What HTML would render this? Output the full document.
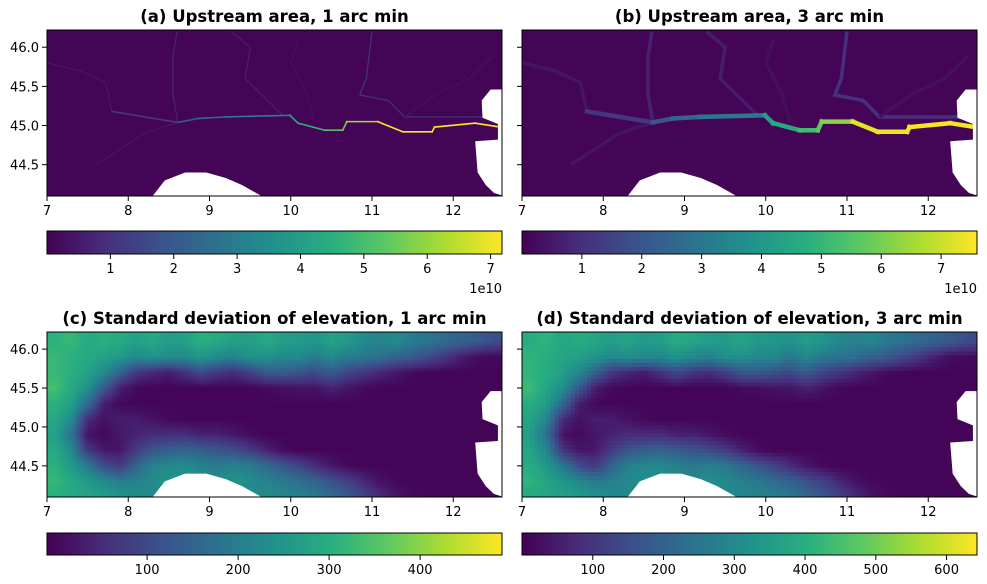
<!DOCTYPE html>
<html><head><meta charset="utf-8">
<style>
body{margin:0;background:#fff;}
svg{display:block;font-family:"DejaVu Sans","Liberation Sans",sans-serif;}
</style></head>
<body>
<svg id="fig" width="987" height="584" viewBox="0 0 987 584" xmlns="http://www.w3.org/2000/svg"></svg>
<script>
// ---------- data ----------
const xTicks = [7, 8, 9, 10, 11, 12];
const yTicks = [44.5, 45.0, 45.5, 46.0];
const poLon = [7.80, 8.61, 8.86, 9.19, 9.99, 10.09, 10.42, 10.64, 10.69, 11.07, 11.38, 11.74, 11.77, 12.27, 12.58];
const poLat = [45.18, 45.04, 45.09, 45.11, 45.13, 45.03, 44.94, 44.94, 45.05, 45.05, 44.92, 44.92, 44.98, 45.03, 44.98];
const poVal = [1.0, 1.2, 2.0, 2.5, 3.0, 4.3, 4.6, 5.2, 5.6, 6.2, 7.3, 7.4, 7.4, 7.5, 7.5];
const tribLon = [
  [12.55, 11.40, 11.20, 10.85, 10.93, 11.00],
  [8.61, 8.55, 8.55, 8.60],
  [9.90, 9.44, 9.50, 9.27],
  [7.80, 7.72, 7.40, 7.00],
  [8.61, 8.20, 7.90, 7.60],
  [10.30, 10.20, 10.00, 10.10],
  [11.40, 11.80, 12.20, 12.50]
];
const tribLat = [
  [45.11, 45.11, 45.32, 45.39, 45.60, 46.20],
  [45.04, 45.40, 45.88, 46.20],
  [45.13, 45.60, 46.00, 46.20],
  [45.18, 45.55, 45.70, 45.80],
  [45.04, 44.90, 44.70, 44.50],
  [45.05, 45.40, 45.80, 46.10],
  [45.11, 45.40, 45.60, 45.90]
];
const tribVal = [1.0, 0.7, 0.6, 0.4, 0.4, 0.3, 0.3];
const stdLat = [46.1, 45.9, 45.7, 45.5, 45.3, 45.1, 44.9, 44.7, 44.5, 44.3, 44.15];
const stdGrid = [
 [400,420,380,400,380,360,380,350,360,400,380,360,350,380,350,340,330,360,340,300,280,300,260,240,220,200,180,150],
 [420,400,380,360,340,300,320,300,300,330,300,280,320,320,300,300,260,300,260,250,230,200,180,140,100,50,20,15],
 [420,400,360,300,200,100,70,50,90,140,100,80,120,180,180,160,140,180,130,100,70,40,15,8,8,8,8,8],
 [440,380,320,180,50,15,8,8,8,8,8,8,8,15,25,35,35,60,35,15,8,8,8,8,8,8,8,8],
 [400,360,220,50,15,8,8,8,8,8,8,8,8,8,8,8,8,8,8,8,8,8,8,8,8,8,8,8],
 [380,300,80,30,50,50,30,15,8,8,8,8,8,8,8,8,8,8,8,8,8,8,8,8,8,8,8,8],
 [360,240,30,15,40,60,80,80,80,60,60,40,20,8,8,8,8,8,8,8,8,8,8,8,8,8,8,8],
 [380,300,100,40,40,110,170,190,210,190,170,150,110,60,20,8,8,8,8,8,8,8,8,8,8,8,8,8],
 [400,340,260,150,110,200,280,300,300,280,260,280,260,220,170,130,80,40,15,8,8,8,8,8,8,8,8,8],
 [420,380,340,300,260,280,300,320,320,300,300,320,300,280,260,230,200,160,120,70,30,15,8,8,8,8,8,8],
 [400,380,360,340,320,300,300,300,300,300,320,320,300,300,280,270,250,210,170,120,70,30,15,8,8,8,8,8]
];
const seaLon = [8.30, 8.45, 8.70, 8.96, 9.20, 9.40, 9.64];
const seaLat = [44.10, 44.30, 44.40, 44.40, 44.33, 44.24, 44.10];
const adrLon = [12.62, 12.46, 12.35, 12.36, 12.55, 12.55, 12.27, 12.30, 12.40, 12.50, 12.62];
const adrLat = [45.46, 45.46, 45.32, 45.10, 45.02, 44.82, 44.80, 44.40, 44.24, 44.14, 44.10];
const cbTicksA = [1, 2, 3, 4, 5, 6, 7];
const cbTicksB = [1, 2, 3, 4, 5, 6, 7];
const cbTicksC = [100, 200, 300, 400];
const cbTicksD = [100, 200, 300, 400, 500, 600];

// ---------- helpers ----------
const NS = "http://www.w3.org/2000/svg";
const svg = document.getElementById('fig');
const VIR = ["#440154","#472d7b","#3b528b","#2c728e","#21918c","#28ae80","#5ec962","#addc30","#fde725"];
function hex(h){return [parseInt(h.slice(1,3),16),parseInt(h.slice(3,5),16),parseInt(h.slice(5,7),16)];}
function viridis(t){t=Math.max(0,Math.min(1,t));const p=t*8,i=Math.min(7,Math.floor(p)),f=p-i;
 const a=hex(VIR[i]),b=hex(VIR[i+1]);return `rgb(${a.map((v,k)=>Math.round(v+(b[k]-v)*f)).join(',')})`;}
function mk(tag, attrs, parent){const e=document.createElementNS(NS,tag);for(const k in attrs)e.setAttribute(k,attrs[k]);(parent||svg).appendChild(e);return e;}
const LON0=7.0, LON1=12.6, LAT0=44.1, LAT1=46.22;
function panel(x0,y0,w,h){return {x0,y0,w,h,
  sx:lon=>x0+(lon-LON0)/(LON1-LON0)*w,
  sy:lat=>y0+(LAT1-lat)/(LAT1-LAT0)*h};}
const P = {
 a: panel(47,30,455,166), b: panel(522,30,455,166),
 c: panel(47,332,455,165), d: panel(522,332,455,165)
};
function stdAt(lon,lat){
 const cx=(lon-7.1)/0.2, n=stdLat.length;
 let ry=0; for(let i=0;i<n-1;i++){ if(lat<=stdLat[i] && lat>=stdLat[i+1]){ry=i+(stdLat[i]-lat)/(stdLat[i]-stdLat[i+1]);break;} if(lat<stdLat[n-1])ry=n-1; }
 const c0=Math.max(0,Math.min(27,Math.floor(cx))), c1=Math.min(27,c0+1), fx=Math.max(0,Math.min(1,cx-c0));
 const r0=Math.max(0,Math.min(n-1,Math.floor(ry))), r1=Math.min(n-1,r0+1), fy=ry-r0;
 const g=stdGrid;
 return (g[r0][c0]*(1-fx)+g[r0][c1]*fx)*(1-fy)+(g[r1][c0]*(1-fx)+g[r1][c1]*fx)*fy;
}

function axes(p, name){
 const g=mk('g',{});
 
 
 return g;
}
function frameAndTicks(p,g,showY){
 const f=mk('rect',{x:p.x0,y:p.y0,width:p.w,height:p.h,fill:'none',stroke:'#000','stroke-width':1},g);
 
 
 xTicks.forEach(v=>{const x=p.sx(v);
  mk('line',{x1:x,x2:x,y1:p.y0+p.h,y2:p.y0+p.h+5,stroke:'#000'},g);
  const t=mk('text',{x:x,y:p.y0+p.h+19,'text-anchor':'middle','font-size':13},g);t.textContent=v;
  
  
 });
 yTicks.forEach(v=>{const y=p.sy(v);
  mk('line',{x1:p.x0-5,x2:p.x0,y1:y,y2:y,stroke:'#000'},g);
  if(showY){const t=mk('text',{x:p.x0-8,y:y+5,'text-anchor':'end','font-size':13},g);t.textContent=v.toFixed(1);
   
   }
 });
}
function titleText(p,txt,g){
 const t=mk('text',{x:p.x0+p.w/2,y:p.y0-8,'text-anchor':'middle','font-size':16.5,'font-weight':'bold'},g);
 t.textContent=txt;
 
 
}
function masks(p,g){
 const s=seaLon.map((l,i)=>p.sx(l)+','+p.sy(seaLat[i])).join(' ');
 const m1=mk('polygon',{points:s,fill:'#fff'},g);
 
 
 const a=adrLon.map((l,i)=>p.sx(l)+','+p.sy(adrLat[i])).join(' ');
 const m2=mk('polygon',{points:a,fill:'#fff'},g);
 
 
}
function upstream(p,name,title,showY,vmax,lw){
 const g=axes(p,name);
 const cp='clip-'+name;
 const cl=mk('clipPath',{id:cp},g); mk('rect',{x:p.x0,y:p.y0,width:p.w,height:p.h},cl);
 const inner=mk('g',{'clip-path':`url(#${cp})`},g);
 const bg=mk('rect',{x:p.x0,y:p.y0,width:p.w,height:p.h,fill:viridis(0.01)},inner);
 
 
 tribLon.forEach((lons,k)=>{
  const pts=lons.map((l,i)=>p.sx(l)+','+p.sy(tribLat[k][i])).join(' ');
  const pl=mk('polyline',{points:pts,fill:'none',stroke:viridis(tribVal[k]/vmax),'stroke-width':lw*0.8,'stroke-linejoin':'miter'},inner);
  
  
 });
 for(let i=0;i<poLon.length-1;i++){
  const ln=mk('line',{x1:p.sx(poLon[i]),y1:p.sy(poLat[i]),x2:p.sx(poLon[i+1]),y2:p.sy(poLat[i+1]),stroke:viridis(poVal[i+1]/vmax),'stroke-width':lw,'stroke-linecap':'square'},inner);
  
  
 }
 masks(p,inner);
 frameAndTicks(p,g,showY);
 titleText(p,title,g);
}
function stdPanel(p,name,title,showY,scale,vmax,cell){
 const g=axes(p,name);
 const cp='clip-'+name;
 const cl=mk('clipPath',{id:cp},g); mk('rect',{x:p.x0,y:p.y0,width:p.w,height:p.h},cl);
 const inner=mk('g',{'clip-path':`url(#${cp})`},g);
 for(let lat=LAT1; lat>LAT0; lat-=cell){
  for(let lon=LON0; lon<LON1; lon+=cell){
   const v=stdAt(lon+cell/2,lat-cell/2)*scale;
   const x=p.sx(lon), y=p.sy(lat);
   const r=mk('rect',{x:x,y:y,width:p.sx(lon+cell)-x+0.5,height:p.sy(lat-cell)-y+0.5,fill:viridis(v/vmax)},inner);
   
   
  }
 }
 masks(p,inner);
 frameAndTicks(p,g,showY);
 titleText(p,title,g);
}
function colorbar(x,y,w,h,vmin,vmax,ticks,name,offset){
 const g=mk('g',{});
 
 
 const gid='grad-'+name;
 const defs=mk('defs',{},g);
 const lg=mk('linearGradient',{id:gid,x1:0,x2:1,y1:0,y2:0},defs);
 VIR.forEach((c,i)=>mk('stop',{offset:(i/8),'stop-color':c},lg));
 mk('rect',{x,y,width:w,height:h,fill:`url(#${gid})`,stroke:'#000','stroke-width':1},g);
 ticks.forEach(v=>{const tx=x+(v-vmin)/(vmax-vmin)*w;
  mk('line',{x1:tx,x2:tx,y1:y+h,y2:y+h+5,stroke:'#000'},g);
  const t=mk('text',{x:tx,y:y+h+19,'text-anchor':'middle','font-size':13},g);t.textContent=v;
  
  
 });
 if(offset){const t=mk('text',{x:x+w,y:y+h+39,'text-anchor':'end','font-size':13},g);t.textContent=offset;
  
  }
}

upstream(P.a,'panel-a-upstream-1min','(a) Upstream area, 1 arc min',true,7.2,1.6);
upstream(P.b,'panel-b-upstream-3min','(b) Upstream area, 3 arc min',false,7.6,4.5);
stdPanel(P.c,'panel-c-std-1min','(c) Standard deviation of elevation, 1 arc min',true,0.72,455,1/30);
stdPanel(P.d,'panel-d-std-3min','(d) Standard deviation of elevation, 3 arc min',false,1.0,650,0.05);
colorbar(47,231,455,23,0,7.18,cbTicksA,'colorbar-a','1e10');
colorbar(522,231,455,23,0,7.6,cbTicksB,'colorbar-b','1e10');
colorbar(47,533,455,22,-10,490,cbTicksC,'colorbar-c',null);
colorbar(522,533,455,22,0,643,cbTicksD,'colorbar-d',null);
</script>
</body></html>
